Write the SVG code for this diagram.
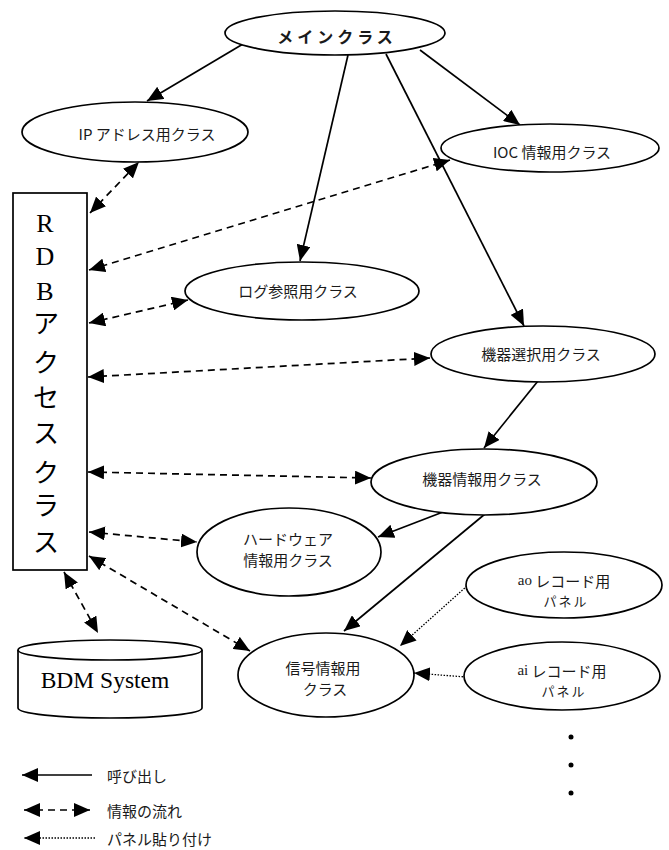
<svg xmlns="http://www.w3.org/2000/svg" width="669" height="850" viewBox="0 0 669 850">
<style>
.node{fill:#fff;stroke:#000;stroke-width:1.7}
.lbl{font-family:"Noto Sans CJK JP","Liberation Sans",sans-serif;font-size:15px;fill:#1a1a1a;text-anchor:middle;dominant-baseline:central}
.sm{font-size:13px;letter-spacing:2px}
.ser{font-family:"Liberation Serif","Noto Sans CJK JP",serif}
.rdb{font-family:"Liberation Serif","Noto Sans CJK JP",serif;font-size:26px;fill:#000;text-anchor:middle}
.call{stroke:#000;stroke-width:1.7;fill:none;marker-end:url(#ah)}
.info{stroke:#000;stroke-width:1.7;fill:none;stroke-dasharray:7 5;marker-start:url(#ah);marker-end:url(#ah)}
.pan{stroke:#000;stroke-width:1.3;fill:none;stroke-dasharray:1.5 1.5;marker-end:url(#ah)}
</style>
<defs>
<marker id="ah" markerUnits="userSpaceOnUse" markerWidth="16" markerHeight="14" viewBox="0 0 16 14" refX="16" refY="7" orient="auto-start-reverse">
<path d="M0,0 L16,7 L0,14 Z" fill="#000"/>
</marker>
</defs>
<rect width="669" height="850" fill="#fff"/>

<g id="connectors">
<line class="call" x1="243" y1="44" x2="147" y2="101"/>
<line class="call" x1="348" y1="55" x2="300" y2="261"/>
<line class="call" x1="386" y1="54" x2="524" y2="326"/>
<line class="call" x1="420" y1="50" x2="520" y2="125"/>
<line class="call" x1="538" y1="381" x2="484" y2="448"/>
<line class="call" x1="443" y1="512" x2="378" y2="537"/>
<line class="call" x1="485" y1="514" x2="344" y2="631"/>
<line class="info" x1="90" y1="213" x2="139" y2="162"/>
<line class="info" x1="89" y1="270" x2="450" y2="160"/>
<line class="info" x1="89" y1="323" x2="188" y2="300"/>
<line class="info" x1="88" y1="377" x2="430" y2="358"/>
<line class="info" x1="88" y1="472" x2="371" y2="478"/>
<line class="info" x1="89" y1="532" x2="197" y2="542"/>
<line class="info" x1="89" y1="556" x2="250" y2="651"/>
<line class="info" x1="64" y1="572" x2="98" y2="633"/>
<line class="pan" x1="467" y1="586" x2="400" y2="646"/>
<line class="pan" x1="466" y1="677" x2="414" y2="673"/>
</g>

<g id="main">
<ellipse class="node" cx="335" cy="33" rx="110" ry="22"/>
<text class="lbl" x="337" y="36" style="font-size:16px;font-weight:bold;letter-spacing:4px">メインクラス</text>
</g>
<g id="ip">
<ellipse class="node" cx="135" cy="132" rx="113" ry="30"/>
<text class="lbl" x="147" y="133">IP アドレス用クラス</text>
</g>
<g id="ioc">
<ellipse class="node" cx="550" cy="148" rx="109" ry="24"/>
<text class="lbl" x="552" y="151">IOC 情報用クラス</text>
</g>
<g id="log">
<ellipse class="node" cx="302" cy="291" rx="117" ry="29"/>
<text class="lbl" x="298" y="290">ログ参照用クラス</text>
</g>
<g id="select">
<ellipse class="node" cx="543" cy="354" rx="112" ry="28"/>
<text class="lbl" x="541" y="353">機器選択用クラス</text>
</g>
<g id="device">
<ellipse class="node" cx="484" cy="482" rx="113" ry="33"/>
<text class="lbl" x="482" y="478">機器情報用クラス</text>
</g>
<g id="hardware">
<ellipse class="node" cx="289" cy="552" rx="92" ry="44"/>
<text class="lbl" x="288" y="538">ハードウェア</text>
<text class="lbl" x="288" y="559">情報用クラス</text>
</g>
<g id="signal">
<ellipse class="node" cx="326" cy="675" rx="88" ry="42"/>
<text class="lbl" x="323" y="667">信号情報用</text>
<text class="lbl" x="325" y="688">クラス</text>
</g>
<g id="ao">
<ellipse class="node" cx="564" cy="585" rx="98" ry="33"/>
<text class="lbl" x="564" y="580"><tspan class="ser">ao</tspan> レコード用</text>
<text class="lbl sm" x="566" y="600">パネル</text>
</g>
<g id="ai">
<ellipse class="node" cx="562" cy="676" rx="98" ry="34"/>
<text class="lbl" x="562" y="670"><tspan class="ser">ai</tspan> レコード用</text>
<text class="lbl sm" x="564" y="690">パネル</text>
</g>
<g id="rdb">
<rect class="node" x="13" y="193" width="74" height="377"/>
<text class="rdb" x="45" y="232">R</text>
<text class="rdb" x="45" y="265">D</text>
<text class="rdb" x="45" y="300">B</text>
<text class="rdb" x="46" y="333">ア</text>
<text class="rdb" x="46" y="372">ク</text>
<text class="rdb" x="46" y="407">セ</text>
<text class="rdb" x="46" y="443">ス</text>
<text class="rdb" x="46" y="482">ク</text>
<text class="rdb" x="46" y="515">ラ</text>
<text class="rdb" x="46" y="552">ス</text>
</g>
<g id="bdm">
<path class="node" d="M18,650 V708 A92,10 0 0 0 202,708 V650"/>
<ellipse class="node" cx="110" cy="650" rx="92" ry="10"/>
<text x="105" y="688" style="font-family:'Liberation Serif',serif;font-size:23.5px;text-anchor:middle;fill:#000">BDM System</text>
</g>
<g id="dots" fill="#000">
<circle cx="571" cy="737" r="2.5"/>
<circle cx="571" cy="765" r="2.5"/>
<circle cx="571" cy="793" r="2.5"/>
</g>
<g id="legend">
<line class="call" x1="92" y1="775" x2="22" y2="775"/>
<line class="info" x1="24" y1="810" x2="90" y2="810"/>
<line class="pan" x1="95" y1="838" x2="24" y2="838"/>
<text class="lbl" x="107" y="775" style="text-anchor:start">呼び出し</text>
<text class="lbl" x="107" y="810" style="text-anchor:start">情報の流れ</text>
<text class="lbl" x="107" y="838" style="text-anchor:start">パネル貼り付け</text>
</g>
</svg>
